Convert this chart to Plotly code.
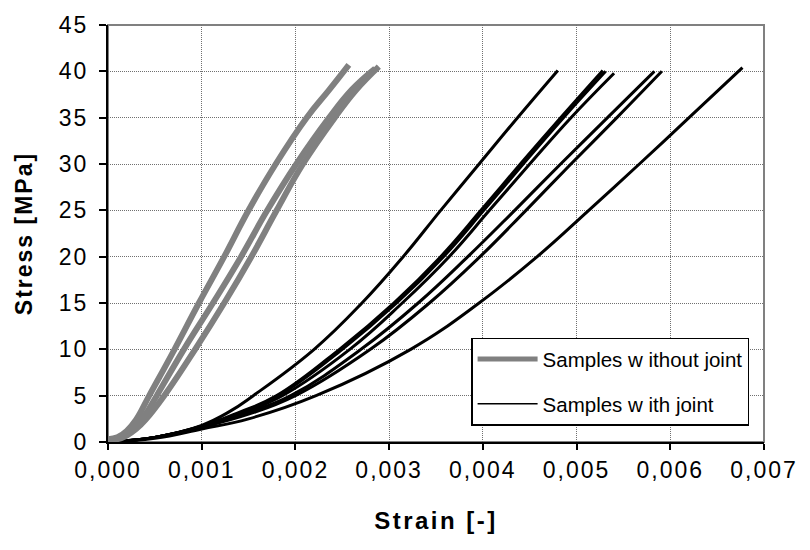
import plotly.graph_objects as go

# ---- data (strain [-], stress [MPa]) ----
g1_x = [0, 0.0001, 0.0002, 0.0003, 0.00044, 0.00071, 0.00097, 0.00124, 0.0015, 0.00179, 0.00212, 0.00236, 0.00257]
g1_y = [0.3, 0.5, 1.2, 2.4, 5, 10, 15, 20, 25, 30, 35, 38, 40.7]
g2_x = [0, 0.0001, 0.0002, 0.0003, 0.0004, 0.00052, 0.00081, 0.00112, 0.00142, 0.0017, 0.00201, 0.00236, 0.0026, 0.00285]
g2_y = [0.2, 0.4, 0.9, 1.8, 3.0, 5, 10, 15, 20, 25, 30, 35, 38, 40.3]
g3_x = [0, 0.0001, 0.0002, 0.0003, 0.0004, 0.0006, 0.00093, 0.00124, 0.00153, 0.0018, 0.00208, 0.00242, 0.00265, 0.00289]
g3_y = [0.2, 0.3, 0.7, 1.4, 2.4, 5, 10, 15, 20, 25, 30, 35, 38, 40.5]

k1_x = [0, 0.0005, 0.001, 0.0013, 0.00155, 0.0022, 0.00271, 0.00315, 0.00355, 0.00396, 0.00437, 0.0048]
k1_y = [0, 0.5, 1.8, 3.3, 5, 10, 15, 20, 25, 30, 35, 40.1]
k2_x = [0, 0.0005, 0.001, 0.0014, 0.0018, 0.00247, 0.00305, 0.00355, 0.00398, 0.0044, 0.00483, 0.00528]
k2_y = [0, 0.5, 1.7, 3.2, 5, 10, 15, 20, 25, 30, 35, 40.1]
k3_x = [0, 0.0005, 0.001, 0.0014, 0.00182, 0.0025, 0.00308, 0.00358, 0.00401, 0.00443, 0.00486, 0.00531]
k3_y = [0, 0.5, 1.7, 3.1, 5, 10, 15, 20, 25, 30, 35, 40.0]
k4_x = [0, 0.0005, 0.001, 0.0014, 0.00186, 0.00258, 0.00314, 0.00364, 0.00407, 0.0045, 0.00494, 0.0054]
k4_y = [0, 0.5, 1.6, 3.0, 5, 10, 15, 20, 25, 30, 35, 39.8]
k5_x = [0, 0.0005, 0.001, 0.0015, 0.00195, 0.0027, 0.00331, 0.00384, 0.00434, 0.00483, 0.00533, 0.00583]
k5_y = [0, 0.5, 1.6, 3.2, 5, 10, 15, 20, 25, 30, 35, 40.0]
k6_x = [0, 0.0005, 0.001, 0.0015, 0.002, 0.0028, 0.00343, 0.00397, 0.00446, 0.00494, 0.00543, 0.00591]
k6_y = [0, 0.5, 1.6, 3.0, 5, 10, 15, 20, 25, 30, 35, 40.0]
k7_x = [0, 0.0005, 0.001, 0.0015, 0.00222, 0.00323, 0.00396, 0.00458, 0.00513, 0.00567, 0.0062, 0.00677]
k7_y = [0, 0.4, 1.4, 2.5, 5, 10, 15, 20, 25, 30, 35, 40.4]

gray_series = [(g1_x, g1_y), (g2_x, g2_y), (g3_x, g3_y)]
black_series = [(k1_x, k1_y), (k2_x, k2_y), (k3_x, k3_y), (k4_x, k4_y),
                (k5_x, k5_y), (k6_x, k6_y), (k7_x, k7_y)]

legend_names = ["Samples w ithout joint", "Samples w ith joint"]
x_ticks = [0, 0.001, 0.002, 0.003, 0.004, 0.005, 0.006, 0.007]
x_tick_labels = ["0,000", "0,001", "0,002", "0,003", "0,004", "0,005", "0,006", "0,007"]
y_ticks = [0, 5, 10, 15, 20, 25, 30, 35, 40, 45]
y_tick_labels = ["0", "5", "10", "15", "20", "25", "30", "35", "40", "45"]
x_title = "Strain [-]"
y_title = "Stress [MPa]"

GRAY = "#808080"
FONT = "Liberation Sans, Arial, sans-serif"


def spaced(t, px):
    return '<span style="letter-spacing:%spx">%s</span>' % (px, t)


fig = go.Figure()
for xs, ys in black_series:
    fig.add_trace(go.Scatter(x=xs, y=ys, mode="lines", showlegend=False,
                             line=dict(color="black", width=3, shape="spline", smoothing=1.2)))
for xs, ys in gray_series:
    fig.add_trace(go.Scatter(x=xs, y=ys, mode="lines", showlegend=False,
                             line=dict(color=GRAY, width=6, shape="spline", smoothing=1.2)))

# legend entries
fig.add_trace(go.Scatter(x=[None], y=[None], mode="lines", name=legend_names[0],
                         legendgroup="a", line=dict(color=GRAY, width=5)))
fig.add_trace(go.Scatter(x=[None], y=[None], mode="lines", name=legend_names[1],
                         legendgroup="b", line=dict(color="black", width=1.5)))

fig.add_shape(type="rect", xref="paper", yref="paper", x0=0, y0=0, x1=1, y1=1,
              line=dict(color=GRAY, width=2), layer="below")

fig.update_layout(
    width=810, height=550,
    margin=dict(l=108, r=39, t=18, b=108),
    paper_bgcolor="white", plot_bgcolor="white",
    font=dict(family=FONT, color="black"),
    separators=", ",
    showlegend=True,
    legend=dict(x=0.5535, y=0.25, xanchor="left", yanchor="top",
                bgcolor="white", bordercolor="black", borderwidth=1.5,
                font=dict(size=20.5, family=FONT), itemwidth=60,
                traceorder="grouped", tracegroupgap=15),
)
fig.update_xaxes(range=[0, 0.007], tickvals=x_ticks,
                 ticktext=[spaced(t, 2) for t in x_tick_labels],
                 showgrid=True, gridcolor="#707070", griddash="1px,1px", gridwidth=1,
                 showline=True, linecolor="black", linewidth=2,
                 ticks="outside", ticklen=6, tickwidth=2, tickcolor="black",
                 tickfont=dict(size=23), zeroline=False,
                 title=dict(text="<b>" + spaced(x_title, 2.5) + "</b>", font=dict(size=24), standoff=31))
fig.update_yaxes(range=[0, 45], tickvals=y_ticks,
                 ticktext=[spaced(t, 2) for t in y_tick_labels],
                 showgrid=True, gridcolor="#707070", griddash="1px,1px", gridwidth=1,
                 showline=True, linecolor="black", linewidth=2,
                 ticks="outside", ticklen=7, tickwidth=2, tickcolor="black",
                 tickfont=dict(size=23), zeroline=False, ticklabelstandoff=6,
                 title=dict(text="<b>" + spaced(y_title, 2) + "</b>", font=dict(size=23), standoff=20))

fig.write_html("out.html")
